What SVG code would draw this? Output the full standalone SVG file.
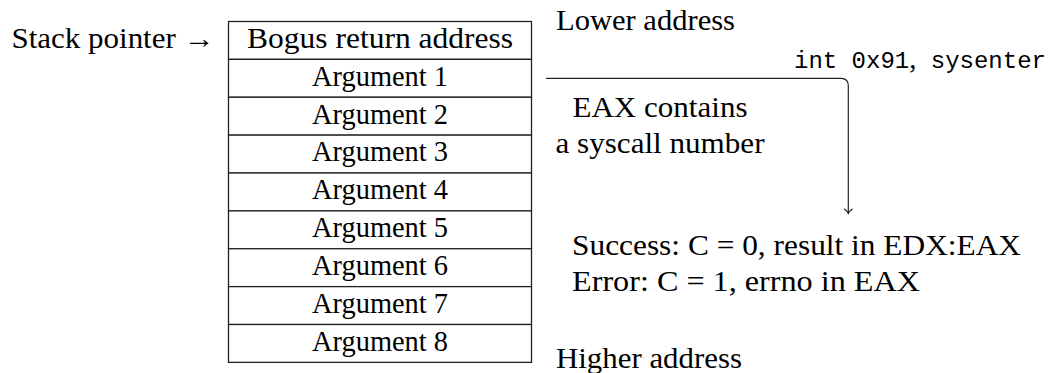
<svg xmlns="http://www.w3.org/2000/svg" width="1058" height="373" viewBox="0 0 1058 373">
  <style>
    text { font-family: "Liberation Serif", "Times New Roman", serif; font-size: 28.5px; fill: #000; }
    .mono { font-family: "Liberation Mono", "Courier New", monospace; font-size: 24px; }
    .cell { fill: #fff; stroke: #222; stroke-width: 1.3; }
    .mid { text-anchor: middle; }
    .conn { fill: none; stroke: #222; stroke-width: 1.2; }
  </style>
  <defs>
    <marker id="tip" markerUnits="userSpaceOnUse" markerWidth="12" markerHeight="12" refX="0" refY="0" viewBox="-6 -6 12 12" orient="auto" overflow="visible">
      <path d="M-4.5,-4 C-2.6,-1.4 -0.9,-0.4 0,0 C-0.9,0.4 -2.6,1.4 -4.5,4" fill="none" stroke="#222" stroke-width="1.1" stroke-linecap="round"/>
    </marker>
  </defs>

  <!-- pointer label -->
  <g id="stack-pointer">
    <text x="11.5" y="47.7" textLength="203" lengthAdjust="spacingAndGlyphs">Stack pointer →</text>
  </g>

  <!-- stack frame, one cell per slot -->
  <g id="stack">
    <g id="slot-ret">
      <rect class="cell" x="228.5" y="21.5" width="303" height="37.875"/>
      <text class="mid" x="380" y="47.7" textLength="266" lengthAdjust="spacingAndGlyphs">Bogus return address</text>
    </g>
    <g id="slot-arg1">
      <rect class="cell" x="228.5" y="59.375" width="303" height="37.875"/>
      <text class="mid" x="380" y="85.6" textLength="136" lengthAdjust="spacingAndGlyphs">Argument 1</text>
    </g>
    <g id="slot-arg2">
      <rect class="cell" x="228.5" y="97.25" width="303" height="37.875"/>
      <text class="mid" x="380" y="123.5" textLength="136" lengthAdjust="spacingAndGlyphs">Argument 2</text>
    </g>
    <g id="slot-arg3">
      <rect class="cell" x="228.5" y="135.125" width="303" height="37.875"/>
      <text class="mid" x="380" y="161.4" textLength="136" lengthAdjust="spacingAndGlyphs">Argument 3</text>
    </g>
    <g id="slot-arg4">
      <rect class="cell" x="228.5" y="173" width="303" height="37.875"/>
      <text class="mid" x="380" y="199.2" textLength="136" lengthAdjust="spacingAndGlyphs">Argument 4</text>
    </g>
    <g id="slot-arg5">
      <rect class="cell" x="228.5" y="210.875" width="303" height="37.875"/>
      <text class="mid" x="380" y="237.1" textLength="136" lengthAdjust="spacingAndGlyphs">Argument 5</text>
    </g>
    <g id="slot-arg6">
      <rect class="cell" x="228.5" y="248.75" width="303" height="37.875"/>
      <text class="mid" x="380" y="275" textLength="136" lengthAdjust="spacingAndGlyphs">Argument 6</text>
    </g>
    <g id="slot-arg7">
      <rect class="cell" x="228.5" y="286.625" width="303" height="37.875"/>
      <text class="mid" x="380" y="312.9" textLength="136" lengthAdjust="spacingAndGlyphs">Argument 7</text>
    </g>
    <g id="slot-arg8">
      <rect class="cell" x="228.5" y="324.5" width="303" height="37.875"/>
      <text class="mid" x="380" y="350.7" textLength="136" lengthAdjust="spacingAndGlyphs">Argument 8</text>
    </g>
  </g>

  <!-- address direction labels -->
  <g id="lower-address">
    <text x="556" y="30" textLength="179" lengthAdjust="spacingAndGlyphs">Lower address</text>
  </g>
  <g id="higher-address">
    <text x="556" y="368" textLength="186" lengthAdjust="spacingAndGlyphs">Higher address</text>
  </g>

  <!-- trap instruction label -->
  <g id="trap">
    <text x="794" y="68"><tspan class="mono">int 0x91</tspan>,<tspan class="mono"> sysenter</tspan></text>
  </g>

  <!-- calling convention notes -->
  <g id="syscall-number">
    <text class="mid" x="660" y="117" textLength="175" lengthAdjust="spacingAndGlyphs">EAX contains</text>
    <text class="mid" x="660" y="153" textLength="209" lengthAdjust="spacingAndGlyphs">a syscall number</text>
  </g>
  <g id="result">
    <text x="572" y="255" textLength="449" lengthAdjust="spacingAndGlyphs">Success: C = 0, result in EDX:EAX</text>
    <text x="572" y="291" textLength="348" lengthAdjust="spacingAndGlyphs">Error: C = 1, errno in EAX</text>
  </g>

  <!-- kernel entry connector -->
  <g id="connectors">
    <path class="conn" d="M546,78.3 H841 Q848.3,78.3 848.3,85.6 V213.5" marker-end="url(#tip)"/>
  </g>
</svg>
